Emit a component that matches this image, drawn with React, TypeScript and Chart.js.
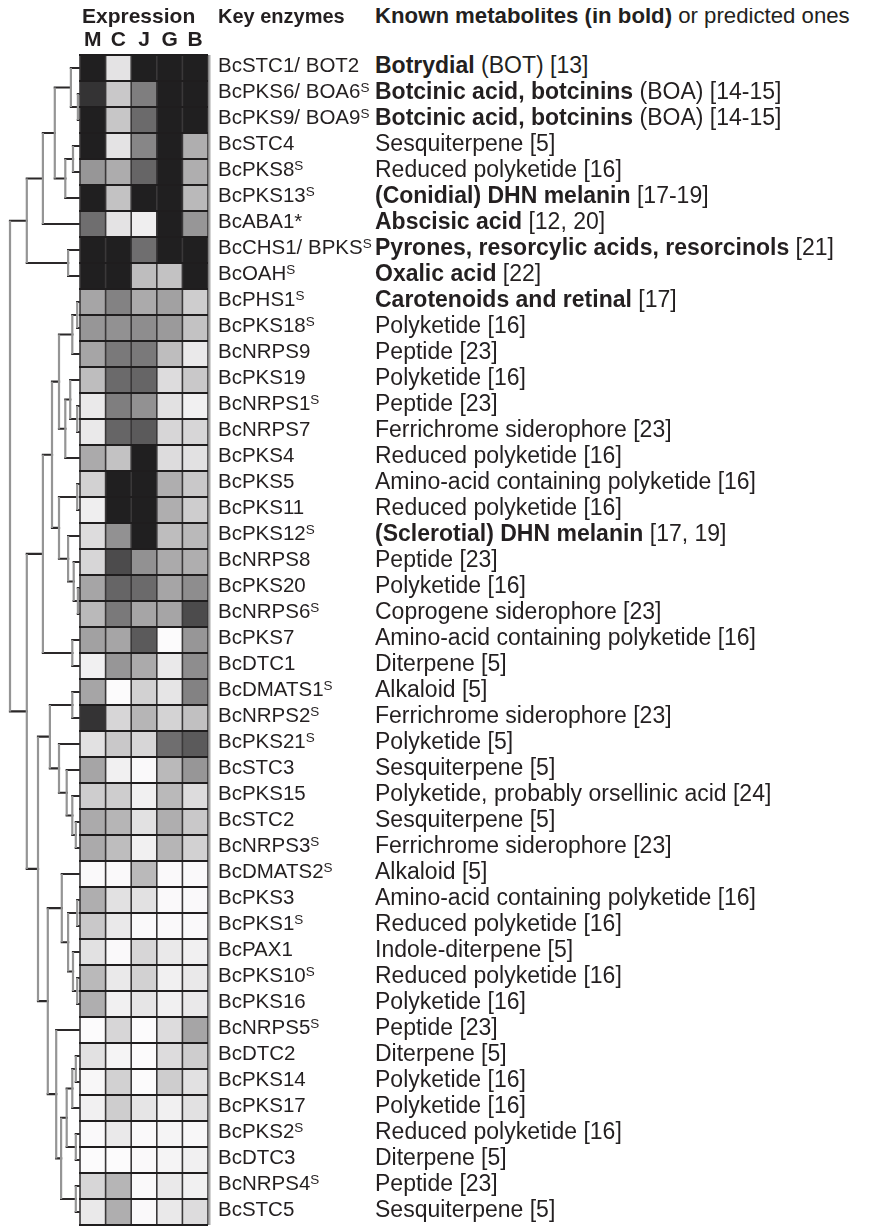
import React, { useEffect, useRef } from "react";
import { Chart, registerables } from "chart.js";

Chart.register(...registerables);

// ---------- data ----------
const columns = ["M", "C", "J", "G", "B"];

const enzymes = [
  "BcSTC1/ BOT2", "BcPKS6/ BOA6", "BcPKS9/ BOA9", "BcSTC4", "BcPKS8", "BcPKS13", "BcABA1*",
  "BcCHS1/ BPKS", "BcOAH", "BcPHS1", "BcPKS18", "BcNRPS9", "BcPKS19", "BcNRPS1", "BcNRPS7",
  "BcPKS4", "BcPKS5", "BcPKS11", "BcPKS12", "BcNRPS8", "BcPKS20", "BcNRPS6", "BcPKS7",
  "BcDTC1", "BcDMATS1", "BcNRPS2", "BcPKS21", "BcSTC3", "BcPKS15", "BcSTC2", "BcNRPS3",
  "BcDMATS2", "BcPKS3", "BcPKS1", "BcPAX1", "BcPKS10", "BcPKS16", "BcNRPS5", "BcDTC2",
  "BcPKS14", "BcPKS17", "BcPKS2", "BcDTC3", "BcNRPS4", "BcSTC5",
];

// superscript "S" marker after the enzyme name
const superS = [
  false, true, true, false, true, true, false, true, true, true, true, false, false, true, false,
  false, false, false, true, false, false, true, false, false, true, true, true, false, false, false,
  true, true, false, true, false, true, false, true, false, false, false, true, false, true, false,
];

const metaboliteBold = [
  "Botrydial", "Botcinic acid, botcinins", "Botcinic acid, botcinins", "", "",
  "(Conidial) DHN melanin", "Abscisic acid", "Pyrones, resorcylic acids, resorcinols", "Oxalic acid",
  "Carotenoids and retinal", "", "", "", "", "", "", "", "", "(Sclerotial) DHN melanin",
  "", "", "", "", "", "", "", "", "", "", "", "", "", "", "", "", "", "", "", "", "", "", "", "", "", "",
];

const metaboliteRest = [
  " (BOT) [13]", " (BOA) [14-15]", " (BOA) [14-15]", "Sesquiterpene [5]", "Reduced polyketide [16]",
  " [17-19]", " [12, 20]", " [21]", " [22]", " [17]", "Polyketide [16]", "Peptide [23]",
  "Polyketide [16]", "Peptide [23]", "Ferrichrome siderophore [23]", "Reduced polyketide [16]",
  "Amino-acid containing polyketide [16]", "Reduced polyketide [16]", " [17, 19]", "Peptide [23]",
  "Polyketide [16]", "Coprogene siderophore [23]", "Amino-acid containing polyketide [16]",
  "Diterpene [5]", "Alkaloid [5]", "Ferrichrome siderophore [23]", "Polyketide [5]",
  "Sesquiterpene [5]", "Polyketide, probably orsellinic acid [24]", "Sesquiterpene [5]",
  "Ferrichrome siderophore [23]", "Alkaloid [5]", "Amino-acid containing polyketide [16]",
  "Reduced polyketide [16]", "Indole-diterpene [5]", "Reduced polyketide [16]", "Polyketide [16]",
  "Peptide [23]", "Diterpene [5]", "Polyketide [16]", "Polyketide [16]", "Reduced polyketide [16]",
  "Diterpene [5]", "Peptide [23]", "Sesquiterpene [5]",
];

// relative expression level (0 = none / white, 100 = highest / black)
const exprM = [100, 91, 100, 100, 46, 100, 64, 100, 100, 39, 46, 39, 28, 8, 8, 37, 19, 6, 14, 17, 39, 30, 41, 5, 39, 91, 12, 39, 21, 37, 37, 1, 35, 23, 12, 30, 35, 0, 12, 2, 5, 1, 0, 17, 8];
const exprC = [11, 23, 24, 11, 36, 26, 11, 100, 100, 55, 48, 59, 66, 57, 68, 26, 100, 100, 48, 80, 68, 59, 39, 46, 0, 17, 23, 5, 21, 32, 28, 1, 12, 8, 1, 8, 5, 17, 3, 19, 21, 8, 0, 32, 35];
const exprJ = [100, 57, 66, 53, 68, 100, 6, 64, 28, 37, 50, 59, 68, 48, 73, 100, 100, 100, 100, 48, 66, 39, 73, 37, 19, 32, 17, 1, 5, 12, 5, 30, 12, 1, 17, 19, 10, 0, 0, 0, 10, 1, 1, 1, 1];
const exprG = [100, 100, 100, 100, 100, 100, 100, 100, 26, 41, 44, 28, 14, 12, 17, 14, 35, 35, 28, 37, 39, 39, 0, 8, 10, 18, 64, 30, 30, 35, 32, 1, 1, 1, 8, 5, 5, 14, 14, 21, 5, 3, 3, 8, 8];
const exprB = [100, 100, 100, 35, 35, 30, 46, 100, 100, 21, 26, 8, 23, 5, 17, 12, 23, 21, 30, 35, 50, 80, 46, 50, 55, 27, 73, 46, 14, 23, 19, 1, 1, 1, 5, 8, 8, 39, 21, 12, 12, 2, 5, 5, 14];

// hierarchical clustering: [left, right, mergeHeight]; leaves = row index; root height = 1
type TreeNode = number | [TreeNode, TreeNode, number];
const tree: TreeNode = [
  [
    [
      [
        [0, [1, 2, 0.03], 0.13],
        [[3, 4, 0.1], 5, 0.21],
        0.36,
      ],
      6,
      0.53,
    ],
    [7, 8, 0.17],
    0.76,
  ],
  [
    [
      [
        [
          [[9, 10, 0.04], 11, 0.11],
          [[12, [13, 14, 0.04], 0.14], 15, 0.21],
          0.3,
        ],
        [
          [16, 17, 0.04],
          [18, [19, [20, 21, 0.03], 0.09], 0.17],
          0.3,
        ],
        0.4,
      ],
      [22, 23, 0.11],
      0.53,
    ],
    [
      [
        [24, 25, 0.11],
        [26, [27, [28, [29, 30, 0.06], 0.11], 0.19], 0.3],
        0.43,
      ],
      [
        [31, [[32, 33, 0.04], [34, [35, 36, 0.04], 0.1], 0.17], 0.26],
        [37, [[[[38, 39, 0.06], 40, 0.11], [41, 42, 0.06], 0.19], [43, 44, 0.06], 0.27], 0.34],
        0.46,
      ],
      0.6,
    ],
    0.76,
  ],
  1.0,
];

// ---------- layout constants ----------
const FONT = "'Liberation Sans', Arial, Helvetica, sans-serif";
const INK = "#231f20";
const DENDRO_SPAN = 2.734; // width of the dendrogram in heatmap-column units
const X_MIN = -2.8125;

type Pt = { x: number | null; y: number | null };

function buildDendrogram() {
  const hor: Pt[] = [];
  const ver: Pt[] = [];
  const walk = (n: TreeNode): { y: number; h: number } => {
    if (typeof n === "number") return { y: n, h: 0 };
    const a = walk(n[0]);
    const b = walk(n[1]);
    const h = n[2];
    const xh = -h * DENDRO_SPAN;
    ver.push({ x: xh, y: a.y }, { x: xh, y: b.y }, { x: null, y: null });
    hor.push({ x: xh, y: a.y }, { x: -a.h * DENDRO_SPAN, y: a.y }, { x: null, y: null });
    hor.push({ x: xh, y: b.y }, { x: -b.h * DENDRO_SPAN, y: b.y }, { x: null, y: null });
    return { y: (a.y + b.y) / 2, h };
  };
  walk(tree);
  return { hor, ver };
}

const expr = [exprM, exprC, exprJ, exprG, exprB];

function cellColor(level: number) {
  const g = Math.round(252 - level * 2.2);
  return `rgb(${g},${g - 1},${g})`;
}

const heatmapPlugin = {
  id: "heatmap",
  afterDatasetsDraw(chart: any) {
    const { ctx } = chart;
    const xs = chart.scales.x;
    const ys = chart.scales.y;
    const n = enzymes.length;
    ctx.save();
    for (let c = 0; c < expr.length; c++) {
      const x0 = xs.getPixelForValue(c);
      const x1 = xs.getPixelForValue(c + 1);
      for (let r = 0; r < n; r++) {
        const y0 = ys.getPixelForValue(r - 0.5);
        const y1 = ys.getPixelForValue(r + 0.5);
        ctx.fillStyle = cellColor(expr[c][r]);
        ctx.fillRect(x0, Math.min(y0, y1), x1 - x0, Math.abs(y1 - y0));
      }
    }
    const left = xs.getPixelForValue(0);
    const right = xs.getPixelForValue(expr.length);
    const top = ys.getPixelForValue(-0.5);
    const bottom = ys.getPixelForValue(n - 0.5);
    // column separators
    ctx.strokeStyle = "#3a3839";
    ctx.lineWidth = 1.6;
    for (let c = 0; c <= expr.length; c++) {
      const x = xs.getPixelForValue(c);
      ctx.beginPath();
      ctx.moveTo(x, top);
      ctx.lineTo(x, bottom);
      ctx.stroke();
    }
    // row separators
    ctx.strokeStyle = "#1f1d1e";
    ctx.lineWidth = 2.2;
    for (let r = 0; r <= n; r++) {
      const y = ys.getPixelForValue(r - 0.5);
      ctx.beginPath();
      ctx.moveTo(left - 1, y);
      ctx.lineTo(right, y);
      ctx.stroke();
    }
    // light right edge
    ctx.strokeStyle = "#a8a8a8";
    ctx.lineWidth = 2;
    ctx.beginPath();
    ctx.moveTo(right + 1.5, top);
    ctx.lineTo(right + 1.5, bottom);
    ctx.stroke();
    ctx.restore();
  },
};

function HeatChart() {
  const ref = useRef<HTMLCanvasElement | null>(null);
  useEffect(() => {
    if (!ref.current) return;
    const { hor, ver } = buildDendrogram();
    const chart = new Chart(ref.current, {
      type: "scatter",
      data: {
        datasets: [
          {
            label: "dendrogram-vertical",
            data: ver as any,
            showLine: true,
            spanGaps: false,
            borderColor: "#959595",
            borderWidth: 2.2,
            pointRadius: 0,
            borderCapStyle: "butt",
          },
          {
            label: "dendrogram-horizontal",
            data: hor as any,
            showLine: true,
            spanGaps: false,
            borderColor: "#2b2829",
            borderWidth: 2.2,
            pointRadius: 0,
            borderCapStyle: "square",
          },
        ],
      },
      options: {
        animation: false,
        responsive: false,
        events: [],
        layout: { padding: { left: 0, right: 15, top: 47, bottom: 3 } },
        plugins: { legend: { display: false }, tooltip: { enabled: false } },
        scales: {
          x: { type: "linear", min: X_MIN, max: columns.length, display: false },
          y: { type: "linear", min: -0.5, max: enzymes.length - 0.5, reverse: true, display: false },
        },
      },
      plugins: [heatmapPlugin],
    });
    return () => chart.destroy();
  }, []);
  return (
    <canvas
      ref={ref}
      width={215}
      height={1220}
      style={{ position: "absolute", left: 0, top: 0, width: 215, height: 1220 }}
    />
  );
}

export default function App() {
  const rowTop = 44;
  const rowH = 26;
  const base: React.CSSProperties = {
    position: "absolute",
    fontFamily: FONT,
    fontSize: 21,
    lineHeight: "26px",
    color: INK,
    whiteSpace: "nowrap",
  };
  const meta: React.CSSProperties = { ...base, fontSize: 23, left: 367 };
  const sup: React.CSSProperties = { fontSize: 13.5, verticalAlign: "0.45em", lineHeight: 0 };
  return (
    <div style={{ position: "relative", width: 855, height: 1220, background: "#fff" }}>
      <HeatChart />
      <div style={{ ...base, left: 74, top: -5, fontWeight: "bold" }}>Expression</div>
      {columns.map((c, i) => (
        <div
          key={c}
          style={{
            ...base,
            left: 72 + 25.6 * i,
            width: 25.6,
            textAlign: "center",
            top: 17.5,
            fontWeight: "bold",
          }}
        >
          {c}
        </div>
      ))}
      <div style={{ ...base, fontSize: 20, left: 210, top: -5, fontWeight: "bold" }}>Key enzymes</div>
      <div style={{ ...meta, fontSize: 22.2, top: -5 }}>
        <b>Known metabolites (in bold)</b> or predicted ones
      </div>
      {enzymes.map((e, i) => (
        <div key={"e" + i} style={{ ...base, fontSize: 20.5, left: 210, top: rowTop + rowH * i }}>
          {e}
          {superS[i] ? <span style={sup}>S</span> : null}
        </div>
      ))}
      {metaboliteRest.map((m, i) => (
        <div key={"m" + i} style={{ ...meta, top: rowTop + rowH * i }}>
          {metaboliteBold[i] ? <b>{metaboliteBold[i]}</b> : null}
          {m}
        </div>
      ))}
    </div>
  );
}
